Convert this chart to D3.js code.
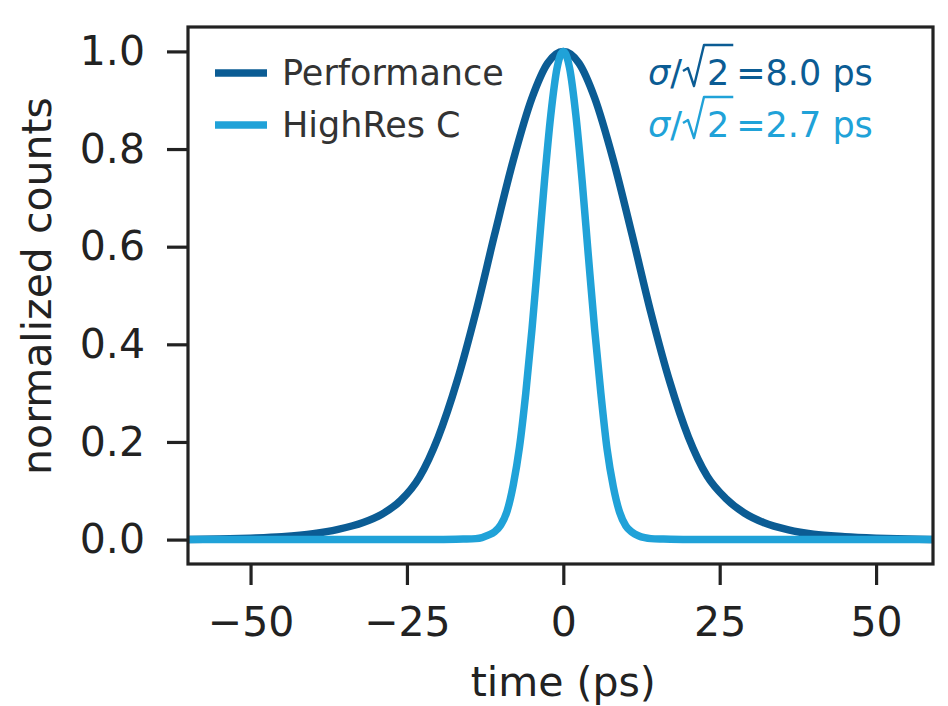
<!DOCTYPE html>
<html>
<head>
<meta charset="utf-8">
<script src="https://cdn.jsdelivr.net/npm/d3@7"></script>
<style>
  body { margin: 0; background: #fff; }
  svg text { font-family: 'DejaVu Sans', sans-serif; }
</style>
</head>
<body>
<svg id="chart" width="948" height="706"></svg>
<script>
// Values
const perfTime = [-60, -55, -50, -45, -40, -36, -32, -29, -26, -23, -20, -17, -14, -11, -8, -5, -2.5,
  0, 2.5, 5, 8, 11, 14, 17, 20, 23, 26, 29, 32, 36, 40, 45, 50, 55, 60];
const perfCounts = [0.000, 0.001, 0.003, 0.006, 0.012, 0.021, 0.035, 0.052, 0.080, 0.128, 0.210, 0.324, 0.465, 0.624, 0.777, 0.905, 0.976,
  1.000, 0.976, 0.905, 0.777, 0.624, 0.465, 0.324, 0.210, 0.130, 0.084, 0.054, 0.035, 0.020, 0.011, 0.006, 0.003, 0.001, 0.000];

const hiresTime = [-60, -30, -20, -16, -14, -13, -12, -11, -10, -9, -8, -7, -6, -5, -4, -3, -2, -1,
  0, 1, 2, 3, 4, 5, 6, 7, 8, 9, 10, 11, 12, 13, 14, 16, 20, 30, 60];
const hiresCounts = [0, 0, 0, 0.001, 0.002, 0.004, 0.009, 0.016, 0.030, 0.058, 0.112, 0.190, 0.300, 0.432, 0.582, 0.736, 0.870, 0.966,
  1.000, 0.966, 0.870, 0.736, 0.582, 0.432, 0.300, 0.185, 0.108, 0.056, 0.028, 0.015, 0.008, 0.004, 0.002, 0.001, 0, 0, 0];

const seriesNames = ['Performance', 'HighRes C'];
const sigmaLabels = ['8.0 ps', '2.7 ps'];
const seriesColors = ['#0b5c94', '#20a2d8'];

const xTicks = [-50, -25, 0, 25, 50];
const yTicks = [0.0, 0.2, 0.4, 0.6, 0.8, 1.0];

const svg = d3.select('#chart');
const margin = { left: 188, right: 933, top: 27, bottom: 564 };

const x = d3.scaleLinear().domain([-60, 59.1]).range([margin.left, margin.right]);
const y = d3.scaleLinear().domain([-0.05, 1.05]).range([margin.bottom, margin.top]);

svg.append('rect').attr('width', 948).attr('height', 706).attr('fill', '#fff');

svg.append('clipPath').attr('id', 'plot-clip')
  .append('rect')
  .attr('x', margin.left).attr('y', margin.top)
  .attr('width', margin.right - margin.left)
  .attr('height', margin.bottom - margin.top);

// Step 1: draw the two curves
const series = [
  perfTime.map((t, i) => ({ t, v: perfCounts[i] })),
  hiresTime.map((t, i) => ({ t, v: hiresCounts[i] }))
];

const line = d3.line()
  .x(d => x(d.t))
  .y(d => y(d.v))
  .curve(d3.curveMonotoneX);

svg.append('g')
  .attr('clip-path', 'url(#plot-clip)')
  .selectAll('path.curve')
  .data(series)
  .join('path')
  .attr('class', 'curve')
  .attr('d', line)
  .attr('fill', 'none')
  .attr('stroke', (d, i) => seriesColors[i])
  .attr('stroke-width', 7.5)
  .attr('stroke-linejoin', 'round');

// Step 2: axes
const yAxis = svg.append('g')
  .attr('transform', `translate(${margin.left},0)`)
  .call(d3.axisLeft(y).tickValues(yTicks).tickFormat(d3.format('.1f')).tickSize(21).tickPadding(22));

const xAxis = svg.append('g')
  .attr('transform', `translate(0,${margin.bottom})`)
  .call(d3.axisBottom(x).tickValues(xTicks)
    .tickFormat(d => d < 0 ? '\u2212' + Math.abs(d) : String(d))
    .tickSize(21).tickPadding(22));

[xAxis, yAxis].forEach(ax => {
  ax.select('.domain').remove();
  ax.selectAll('.tick line').attr('stroke', '#222').attr('stroke-width', 3.2);
  ax.selectAll('.tick text')
    .attr('fill', '#222')
    .style('font-size', '41px')
    .style('font-family', "'DejaVu Sans', sans-serif");
});

svg.append('rect')
  .attr('x', margin.left).attr('y', margin.top)
  .attr('width', margin.right - margin.left)
  .attr('height', margin.bottom - margin.top)
  .attr('fill', 'none')
  .attr('stroke', '#222')
  .attr('stroke-width', 3.2);

// Axis titles
svg.append('text')
  .attr('x', x(0)).attr('y', 696)
  .attr('text-anchor', 'middle')
  .attr('fill', '#222')
  .style('font-size', '41px')
  .text('time (ps)');

svg.append('text')
  .attr('transform', 'translate(51,286) rotate(-90)')
  .attr('text-anchor', 'middle')
  .attr('fill', '#222')
  .style('font-size', '41px')
  .text('normalized counts');

// Step 3: legend
const baselines = [85, 137];

const legend = svg.append('g');
seriesNames.forEach((name, i) => {
  legend.append('line')
    .attr('x1', 215).attr('x2', 267)
    .attr('y1', baselines[i] - 12).attr('y2', baselines[i] - 12)
    .attr('stroke', seriesColors[i])
    .attr('stroke-width', 7.5);
  legend.append('text')
    .attr('x', 282).attr('y', baselines[i])
    .attr('fill', '#333')
    .style('font-size', '35px')
    .text(name);
});

// Step 4: sigma / sqrt(2) annotations
sigmaLabels.forEach((label, i) => {
  const g = svg.append('g').attr('fill', seriesColors[i]);
  const base = baselines[i];
  const x0 = 648;

  const t1 = g.append('text').attr('x', x0).attr('y', base).style('font-size', '35px');
  t1.append('tspan').style('font-style', 'italic').text('\u03c3');
  t1.append('tspan').text('/');
  const w1 = t1.node().getComputedTextLength();

  const rs = x0 + w1 + 1;
  const two = g.append('text').attr('x', rs + 24).attr('y', base).style('font-size', '35px').text('2');
  const w2 = two.node().getComputedTextLength();
  const over = rs + 24 + w2 + 4;

  g.append('path')
    .attr('d', `M${rs},${base - 14} L${rs + 5},${base - 17} L${rs + 11},${base + 1} L${rs + 21},${base - 40} L${over},${base - 40}`)
    .attr('fill', 'none')
    .attr('stroke', seriesColors[i])
    .attr('stroke-width', 2.4)
    .attr('stroke-linejoin', 'round');

  g.append('text')
    .attr('x', over + 3).attr('y', base)
    .style('font-size', '35px')
    .text('=' + label);
});
</script>
</body>
</html>
